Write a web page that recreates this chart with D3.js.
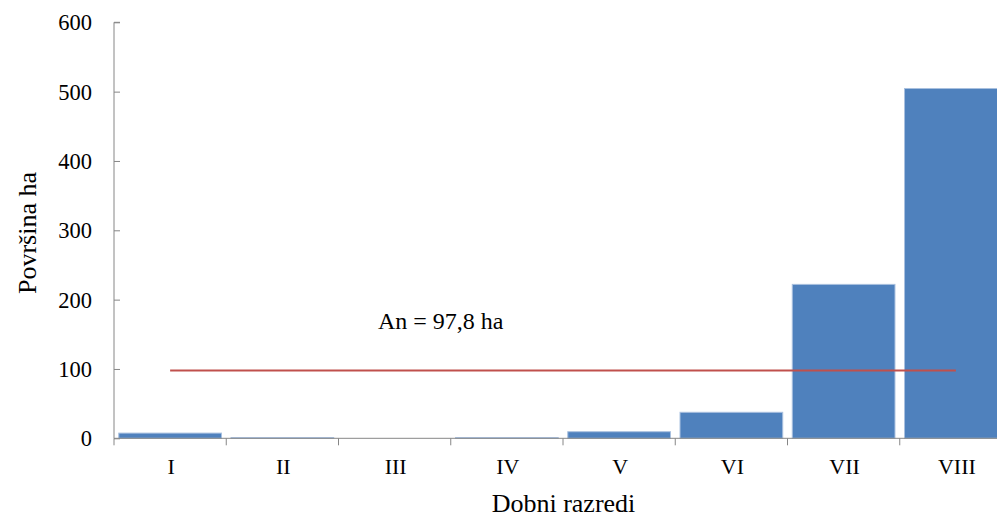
<!DOCTYPE html>
<html>
<head>
<meta charset="utf-8">
<script src="https://cdn.jsdelivr.net/npm/d3@7"></script>
<style>
  html, body { margin: 0; padding: 0; background: #fff; }
  svg { display: block; }
  text { font-family: "Liberation Serif", serif; fill: #000; }
</style>
</head>
<body>
<svg id="chart" width="997" height="521"></svg>
<script>
// Data
const categories = ["I", "II", "III", "IV", "V", "VI", "VII", "VIII"];
const areaValues = [7.5, 1, 0, 1, 9.5, 37.5, 222, 504.5];
const normalArea = 97.8;
const yTicks = [0, 100, 200, 300, 400, 500, 600];
const yTitle = "Površina ha";
const xTitle = "Dobni razredi";
const annotation = "An = 97,8 ha";

const svg = d3.select("#chart");
const plotLeft = 114, plotRight = 1012, plotTop = 22.3, plotBottom = 438.3;

const x = d3.scaleBand().domain(categories).range([plotLeft, plotRight]).paddingInner(0.085).paddingOuter(0.0425);
const xb = d3.scaleBand().domain(categories).range([plotLeft, plotRight]);
const y = d3.scaleLinear().domain([0, 600]).range([plotBottom, plotTop]);

const axisColor = "#868686";

// Bars
svg.append("g").selectAll("rect").data(categories).join("rect")
  .attr("x", d => x(d))
  .attr("width", x.bandwidth())
  .attr("y", (d, i) => y(areaValues[i]))
  .attr("height", (d, i) => y(0) - y(areaValues[i]))
  .attr("fill", "#4F81BD")
  .attr("stroke", "#A9C0DF")
  .attr("stroke-width", (d, i) => areaValues[i] > 0 ? 1 : 0);

// Y axis
const yAxis = svg.append("g").attr("transform", `translate(${plotLeft},0)`)
  .call(d3.axisRight(y).tickValues(yTicks).tickSize(6).tickFormat(""));
yAxis.select(".domain").attr("stroke", axisColor).attr("d", `M6,${plotTop}H0V${plotBottom}`);
yAxis.selectAll(".tick line").attr("stroke", axisColor);
svg.append("g").selectAll("text").data(yTicks).join("text")
  .attr("x", 92).attr("y", d => y(d)).attr("dy", "0.35em")
  .attr("text-anchor", "end").attr("font-size", 22.5)
  .text(d => d);

// X axis
const boundaries = categories.map(c => xb(c)).concat([plotRight]);
const xAxis = svg.append("g");
xAxis.append("line").attr("x1", plotLeft).attr("x2", plotRight).attr("y1", plotBottom).attr("y2", plotBottom)
  .attr("stroke", axisColor).attr("stroke-width", 1);
xAxis.selectAll("line.t").data(boundaries).join("line").attr("class", "t")
  .attr("x1", d => d).attr("x2", d => d).attr("y1", plotBottom).attr("y2", plotBottom + 7)
  .attr("stroke", axisColor);
svg.append("g").selectAll("text").data(categories).join("text")
  .attr("x", d => xb(d) + xb.bandwidth() / 2 + 1).attr("y", 474)
  .attr("text-anchor", "middle").attr("font-size", 22)
  .text(d => d);

// Normal area line
const lineGen = d3.line().x(d => xb(d) + xb.bandwidth() / 2).y(() => y(normalArea));
svg.append("path").datum([categories[0], categories[categories.length - 1]])
  .attr("d", lineGen).attr("stroke", "#C0504D").attr("stroke-width", 2.2).attr("fill", "none");

// Annotation
svg.append("text").attr("x", 378).attr("y", 328.5).attr("font-size", 24).text(annotation);

// Axis titles
svg.append("text").attr("x", 563.5).attr("y", 511.5).attr("text-anchor", "middle")
  .attr("font-size", 26).text(xTitle);
svg.append("text").attr("transform", "translate(36,233) rotate(-90)")
  .attr("text-anchor", "middle").attr("font-size", 26).text(yTitle);
</script>
</body>
</html>
